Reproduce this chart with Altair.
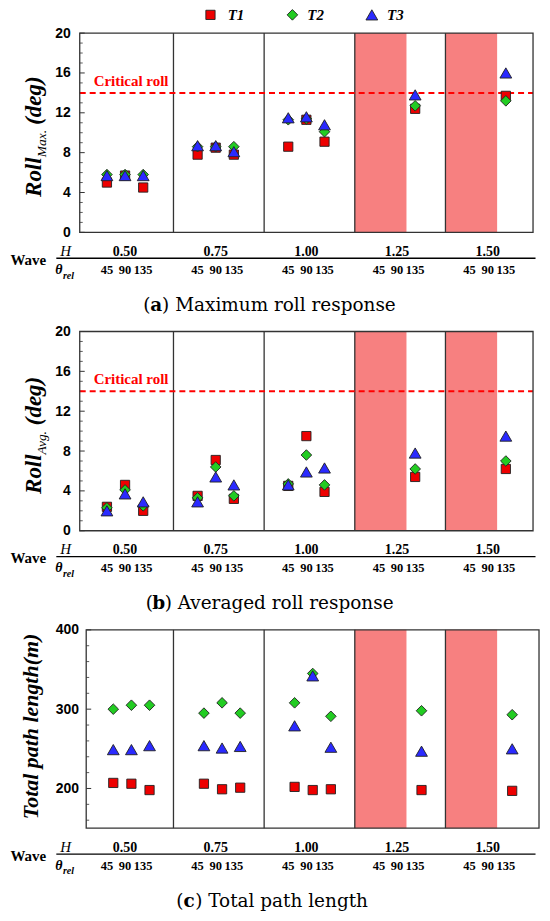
import altair as alt
import pandas as pd

# ---------------- data ----------------
H_LEVELS = ["0.50", "0.75", "1.00", "1.25", "1.50"]
ANGLES = [45, 90, 135]
SERIES = ["T1", "T2", "T3"]
# measured cases: wave-height section index and relative heading
CASE_SECTION = [0, 0, 0, 1, 1, 1, 2, 2, 2, 3, 4]
CASE_ANGLE = [45, 90, 135, 45, 90, 135, 45, 90, 135, 135, 135]
CAPSIZED_SECTIONS = [3, 4]
CRITICAL_ROLL = [14]

ROLL_MAX_T1 = [5.0, 5.7, 4.5, 7.8, 8.5, 7.8, 8.6, 11.3, 9.1, 12.4, 13.7]
ROLL_MAX_T2 = [5.8, 5.8, 5.8, 8.6, 8.6, 8.6, 11.3, 11.4, 10.1, 12.7, 13.2]
ROLL_MAX_T3 = [5.7, 5.7, 5.7, 8.7, 8.7, 8.1, 11.5, 11.6, 10.8, 13.8, 16.0]

ROLL_AVG_T1 = [2.4, 4.6, 2.0, 3.5, 7.1, 3.2, 4.5, 9.5, 3.9, 5.4, 6.2]
ROLL_AVG_T2 = [2.3, 4.1, 2.5, 3.3, 6.4, 3.5, 4.7, 7.6, 4.6, 6.2, 7.0]
ROLL_AVG_T3 = [2.0, 3.7, 2.9, 2.9, 5.4, 4.6, 4.6, 5.9, 6.3, 7.8, 9.5]

PATH_T1 = [207, 206, 198, 206, 199, 201, 202, 198, 199, 198, 197]
PATH_T2 = [300, 305, 305, 295, 308, 295, 308, 345, 291, 298, 293]
PATH_T3 = [249, 249, 254, 254, 251, 253, 279, 342, 252, 247, 250]

# ---------------- layout / style ----------------
SEC = 5.0
SLOT = {45: 1.5, 90: 2.5, 135: 3.5}
EDGES = [5.17, 10.17, 15.17, 20.17]
SPAN_W = 2.85
LEGEND_SYMBOL_X = [7.21, 11.73, 16.11]   # legend entry positions in x-axis units
LEGEND_TEXT_X = [8.16, 12.55, 16.95]

RED = "#ee0000"
GREEN = "#22cc22"
BLUE = "#2a2aff"
FRAME = "#333333"
SERIF = "Liberation Serif"
SANS = "Liberation Sans"
CAP_FONT = "DejaVu Serif"

ONE = pd.DataFrame({"k": [0]})


def label(text, x, y, **kw):
    return alt.Chart(ONE).mark_text(text=text, **kw).encode(
        x=alt.value(x), y=alt.value(y))


def panel(vals, ydom, major, minor, w, h, xdom, shift, fx, ytitle, caption,
          legend, critical, label_pad):
    xs = alt.Scale(domain=[0, xdom], nice=False, zero=False)
    ys = alt.Scale(domain=ydom, nice=False, zero=False)
    yax = alt.Axis(values=major, title=None, ticks=False, domain=False,
                   grid=False, labelFont=SANS, labelFontWeight="bold",
                   labelFontSize=14, labelColor="black", labelPadding=label_pad)
    fill_s = alt.Scale(domain=SERIES, range=[RED, GREEN, BLUE])
    shape_s = alt.Scale(domain=SERIES, range=["square", "diamond", "triangle-up"])
    size_s = alt.Scale(domain=SERIES, range=[86, 140, 106])

    rows = []
    for s in SERIES:
        for sec, ang, v in zip(CASE_SECTION, CASE_ANGLE, vals[s]):
            rows.append({"xpos": sec * SEC + SLOT[ang] + shift,
                         "value": v, "series": s})
    pts = pd.DataFrame(rows)

    spans = pd.DataFrame({"x": [EDGES[i - 1] for i in CAPSIZED_SECTIONS],
                          "x2": [EDGES[i - 1] + SPAN_W for i in CAPSIZED_SECTIONS]})
    divs = pd.DataFrame({"x": EDGES})
    hlab = pd.DataFrame({"x": [i * SEC + SLOT[90] for i in range(len(H_LEVELS))],
                         "t": H_LEVELS})
    alab = pd.DataFrame({"x": [i * SEC + SLOT[a] for i in range(len(H_LEVELS)) for a in ANGLES],
                         "t": [str(a) for _ in H_LEVELS for a in ANGLES]})

    layers = []
    layers.append(alt.Chart(spans).mark_rect(color="#f78080").encode(
        x=alt.X("x:Q", scale=xs, axis=None), x2="x2:Q",
        y=alt.value(0), y2=alt.value(h)))
    layers.append(alt.Chart(divs).mark_rule(color=FRAME, strokeWidth=1.3).encode(
        x=alt.X("x:Q", scale=xs, axis=None), y=alt.value(0), y2=alt.value(h)))

    # inward y ticks
    layers.append(alt.Chart(pd.DataFrame({"v": major})).mark_rule(color=FRAME, strokeWidth=1).encode(
        y=alt.Y("v:Q", scale=ys, axis=yax), x=alt.value(fx), x2=alt.value(fx + 5)))
    layers.append(alt.Chart(pd.DataFrame({"v": minor})).mark_rule(color=FRAME, strokeWidth=0.8).encode(
        y=alt.Y("v:Q", scale=ys, axis=yax), x=alt.value(fx), x2=alt.value(fx + 3)))

    if critical:
        crit = pd.DataFrame({"v": CRITICAL_ROLL})
        layers.append(alt.Chart(crit).mark_rule(color="#ff0000", strokeWidth=2,
                                                strokeDash=[6, 4]).encode(
            y=alt.Y("v:Q", scale=ys, axis=yax), x=alt.value(0), x2=alt.value(w)))
        layers.append(alt.Chart(crit).mark_text(text="Critical roll", font=SERIF,
                                                fontWeight="bold", fontSize=15,
                                                color="#ff0000", align="left",
                                                baseline="alphabetic", dy=-7).encode(
            y=alt.Y("v:Q", scale=ys, axis=yax), x=alt.value(14)))

    layers.append(alt.Chart(pts).mark_point(filled=True, opacity=1, stroke="#202020",
                                            strokeWidth=0.9).encode(
        x=alt.X("xpos:Q", scale=xs, axis=None),
        y=alt.Y("value:Q", scale=ys, axis=yax),
        fill=alt.Fill("series:N", scale=fill_s, legend=None),
        shape=alt.Shape("series:N", scale=shape_s, legend=None),
        size=alt.Size("series:N", scale=size_s, legend=None),
    ))

    if legend:
        lg = pd.DataFrame({"series": SERIES, "sx": LEGEND_SYMBOL_X, "tx": LEGEND_TEXT_X})
        layers.append(alt.Chart(lg).mark_point(filled=True, opacity=1, stroke="#202020",
                                               strokeWidth=0.9).encode(
            x=alt.X("sx:Q", scale=xs, axis=None), y=alt.value(-18.3),
            fill=alt.Fill("series:N", scale=fill_s, legend=None),
            shape=alt.Shape("series:N", scale=shape_s, legend=None),
            size=alt.Size("series:N", scale=size_s, legend=None)))
        layers.append(alt.Chart(lg).mark_text(font=SERIF, fontStyle="italic", fontWeight="bold",
                                              fontSize=15, align="left", baseline="middle",
                                              color="black").encode(
            x=alt.X("tx:Q", scale=xs, axis=None), y=alt.value(-18.3), text="series:N"))

    # frame
    layers.append(alt.Chart(ONE).mark_rect(fillOpacity=0, stroke=FRAME, strokeWidth=1.3).encode(
        x=alt.value(fx), x2=alt.value(w), y=alt.value(0), y2=alt.value(h)))

    # wave labels under the plot
    layers.append(alt.Chart(hlab).mark_text(font=SERIF, fontWeight="bold", fontSize=14,
                                            baseline="alphabetic", color="black").encode(
        x=alt.X("x:Q", scale=xs, axis=None), y=alt.value(h + 23.7), text="t:N"))
    layers.append(alt.Chart(alab).mark_text(font=SERIF, fontWeight="bold", fontSize=12.5,
                                            baseline="alphabetic", color="black").encode(
        x=alt.X("x:Q", scale=xs, axis=None), y=alt.value(h + 41.7), text="t:N"))
    layers.append(alt.Chart(ONE).mark_rule(color="black", strokeWidth=1.3).encode(
        x=alt.value(-23.5), x2=alt.value(457.5), y=alt.value(h + 26)))
    layers.append(label("Wave", -69.5, h + 32.7, font=SERIF, fontWeight="bold", fontSize=15,
                        align="left", baseline="alphabetic", color="black"))
    layers.append(label("H", -14.2, h + 23.7, font=SERIF, fontStyle="italic", fontSize=15,
                        align="center", baseline="alphabetic", color="black"))
    layers.append(label("\u03b8", -24.5, h + 41.7, font=SERIF, fontStyle="italic",
                        fontWeight="bold", fontSize=14, align="left",
                        baseline="alphabetic", color="black"))
    layers.append(label("rel", -16.8, h + 46.4, font=SERIF, fontStyle="italic",
                        fontWeight="bold", fontSize=10, align="left",
                        baseline="alphabetic", color="black"))

    # y title pieces (rotated)
    for text, tx, ty, size, weight in ytitle:
        layers.append(label(text, tx, ty, font=SERIF, fontStyle="italic", fontWeight=weight,
                            fontSize=size, angle=270, align="left",
                            baseline="alphabetic", color="black"))

    # caption
    cx, letter, rest = caption
    layers.append(label("(", cx - 5.7, h + 79, font=CAP_FONT, fontSize=18.5, align="right",
                        baseline="alphabetic", color="black"))
    layers.append(label(letter, cx, h + 79, font=CAP_FONT, fontSize=18.5, fontWeight="bold",
                        align="center", baseline="alphabetic", color="black"))
    layers.append(label(rest, cx + 6, h + 79, font=CAP_FONT, fontSize=18.5, align="left",
                        baseline="alphabetic", color="black"))

    return alt.layer(*layers).properties(width=w, height=h)


W, H = 455, 200
A = panel({"T1": ROLL_MAX_T1, "T2": ROLL_MAX_T2, "T3": ROLL_MAX_T3},
          [0, 20], [0, 4, 8, 12, 16, 20], [v for v in range(21) if v % 4],
          W, H, 25, 0, 0,
          [("Roll", -38.5, 164.4, 23, "bold"), ("Max.", -33.5, 124.5, 13.5, "normal"),
           ("(deg)", -38.5, 92, 23, "bold")],
          (76.7, "a", ") Maximum roll response"), True, True, 9.5)
B = panel({"T1": ROLL_AVG_T1, "T2": ROLL_AVG_T2, "T3": ROLL_AVG_T3},
          [0, 20], [0, 4, 8, 12, 16, 20], [v for v in range(21) if v % 4],
          W, H, 25, 0, 0,
          [("Roll", -38.5, 163, 23, "bold"), ("Avg.", -33.5, 123.5, 13.5, "normal"),
           ("(deg)", -38.5, 94, 23, "bold")],
          (79.3, "b", ") Averaged roll response"), False, True, 9.5)
C = panel({"T1": PATH_T1, "T2": PATH_T2, "T3": PATH_T3},
          [150, 400], [200, 300, 400], [v for v in range(160, 400, 20) if v % 100],
          461, 199, 461 / 18.2, 0.35, 6.5,
          [("Total path length(m)", -41.5, 190, 22, "bold")],
          (109.9, "c", ") Total path length"), False, False, 1.2)

chart = alt.vconcat(A, B, C, spacing=99.5, bounds="flush").resolve_scale(
    fill="independent", shape="independent", size="independent"
).properties(
    padding={"left": 2, "top": -2.5, "right": 2, "bottom": 2}
).configure_view(strokeWidth=0)

chart.save("out.html", embed_options={"renderer": "svg", "actions": False})
